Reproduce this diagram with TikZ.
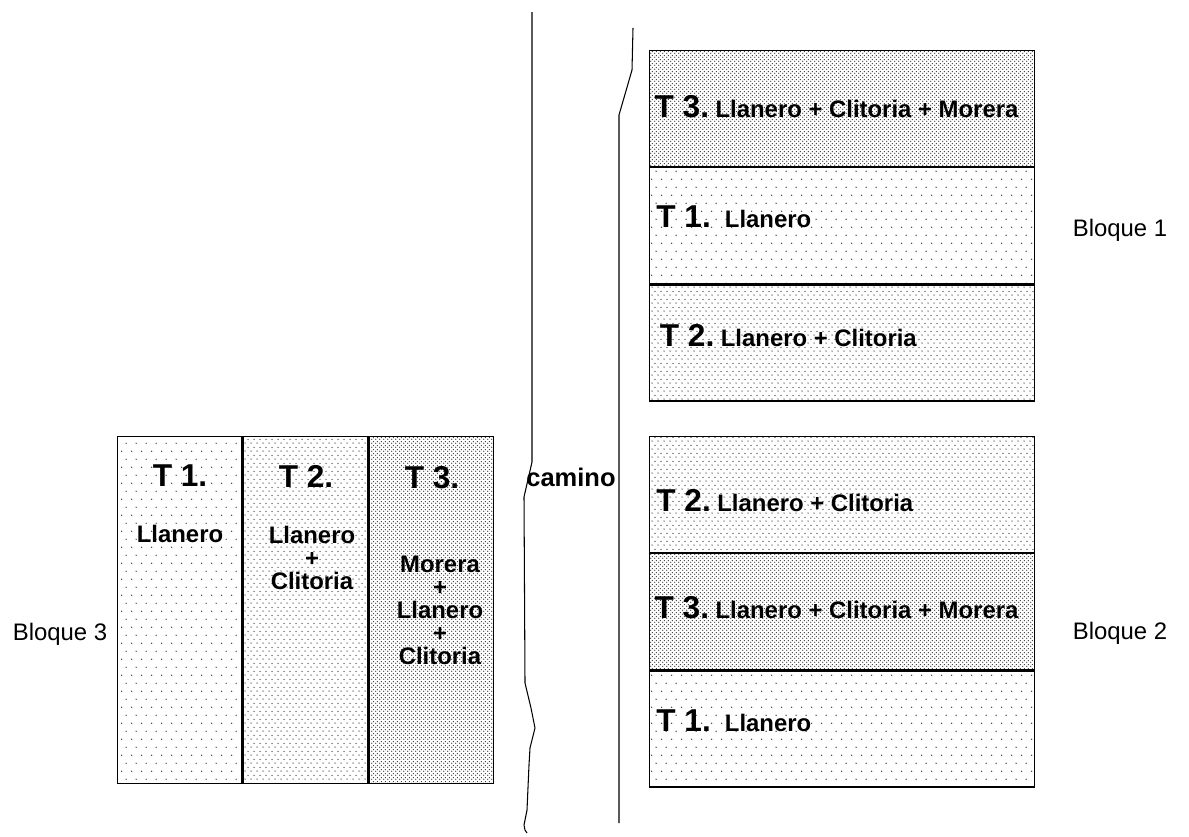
\documentclass[tikz,border=0pt]{standalone}
\usepackage{fontspec}
\setmainfont{Liberation Sans}
\usetikzlibrary{positioning, patterns}

\pgfdeclarepatternformonly{sparsedots}{\pgfpointorigin}{\pgfqpoint{5.7pt}{9.1pt}}{\pgfqpoint{5.7pt}{9.1pt}}{%
  \pgfpathcircle{\pgfqpoint{1pt}{1pt}}{0.42pt}
  \pgfpathcircle{\pgfqpoint{3.85pt}{5.55pt}}{0.42pt}
  \pgfusepath{fill}}
\pgfdeclarepatternformonly{mediumdots}{\pgfpointorigin}{\pgfqpoint{3.4pt}{4.6pt}}{\pgfqpoint{3.4pt}{4.6pt}}{%
  \pgfpathcircle{\pgfqpoint{0.6pt}{0.6pt}}{0.4pt}
  \pgfpathcircle{\pgfqpoint{2.3pt}{2.9pt}}{0.4pt}
  \pgfusepath{fill}}
\pgfdeclarepatternformonly{densedots}{\pgfpointorigin}{\pgfqpoint{2.3pt}{2.3pt}}{\pgfqpoint{2.3pt}{2.3pt}}{%
  \pgfpathcircle{\pgfqpoint{0.5pt}{0.5pt}}{0.42pt}
  \pgfpathcircle{\pgfqpoint{1.65pt}{1.65pt}}{0.42pt}
  \pgfusepath{fill}}

\newcommand{\tnum}[1]{{\fontsize{18}{20}\selectfont\bfseries #1}}
\newcommand{\tmix}[1]{{\fontsize{13.6}{14}\selectfont\bfseries #1}}

\begin{document}
\begin{tikzpicture}[x=0.02cm, y=-0.02cm,
  band/.style={rectangle, draw, line width=0.7pt, anchor=north west,
               minimum width=7.7cm, minimum height=2.32cm, inner sep=0pt},
  column/.style={rectangle, draw, line width=0.7pt, anchor=north west,
               minimum width=2.49cm, minimum height=6.94cm, inner sep=0pt},
  t1/.style={pattern=sparsedots, pattern color=black!75},
  t2/.style={pattern=mediumdots, pattern color=black!75},
  t3/.style={pattern=densedots, pattern color=black!80},
  lab/.style={anchor=west, inner sep=0pt},
  stack/.style={align=center, font=\fontsize{13.6}{13}\selectfont\bfseries, inner sep=0pt},
  blq/.style={font=\fontsize{13.6}{15}\selectfont},
  road/.style={line width=0.6pt}
]
\useasboundingbox (0,0) rectangle (1189,836);

% bloque 1
\node[band, t3] (b1t3) at (649,50) {};
\node[band, t1, below=0pt of b1t3.south west, anchor=north west] (b1t1) {};
\node[band, t2, below=0pt of b1t1.south west, anchor=north west] (b1t2) {};
\node[lab] at ([xshift=3pt, yshift=1pt]b1t3.west) {\tnum{T 3.} \tmix{Llanero + Clitoria + Morera}};
\node[lab] at ([xshift=4pt, yshift=5pt]b1t1.west) {\tnum{T 1.}\hspace{8pt}\tmix{Llanero}};
\node[lab] at ([xshift=6pt, yshift=4pt]b1t2.west) {\tnum{T 2.} \tmix{Llanero + Clitoria}};
\node[blq] (bq1) at (1120,230) {Bloque 1};

% bloque 2
\node[band, t2] (b2t2) at (649,436) {};
\node[band, t3, below=0pt of b2t2.south west, anchor=north west] (b2t3) {};
\node[band, t1, below=0pt of b2t3.south west, anchor=north west] (b2t1) {};
\node[lab] at ([xshift=4pt, yshift=-3.5pt]b2t2.west) {\tnum{T 2.} \tmix{Llanero + Clitoria}};
\node[lab] at ([xshift=3pt, yshift=2.5pt]b2t3.west) {\tnum{T 3.} \tmix{Llanero + Clitoria + Morera}};
\node[lab] at ([xshift=4pt, yshift=4.5pt]b2t1.west) {\tnum{T 1.}\hspace{8pt}\tmix{Llanero}};
\node[blq] (bq2) at (1120,633) {Bloque 2};

% bloque 3
\node[column, t1] (b3t1) at (117,436) {};
\node[column, t2, right=0pt of b3t1.north east, anchor=north west] (b3t2) {};
\node[column, t3, right=0pt of b3t2.north east, anchor=north west] (b3t3) {};
\node at (180,476) {\tnum{T 1.}};
\node at (306,476) {\tnum{T 2.}};
\node at (432,478) {\tnum{T 3.}};
\node[stack, anchor=north] at (180,525) {Llanero};
\node[stack, anchor=north] at (312,526) {Llanero\\+\\Clitoria};
\node[stack, anchor=north] at (440,556) {Morera\\+\\Llanero\\+\\Clitoria};
\node[blq] (bq3) at (60,634) {Bloque 3};

% camino
\draw[road] (532,12) -- (532,462) -- (524,497) -- (525,683) -- (531,708) -- (535,728)
  -- (530,748) -- (529,765) -- (527,810) -- (524,825) -- (525,830) -- (527,833);
\draw[road] (633,28) -- (632,70) -- (619,115) -- (619,823);
\node[font=\fontsize{14.5}{16}\selectfont\bfseries] (cam) at (571,477) {camino};
\end{tikzpicture}
\end{document}
